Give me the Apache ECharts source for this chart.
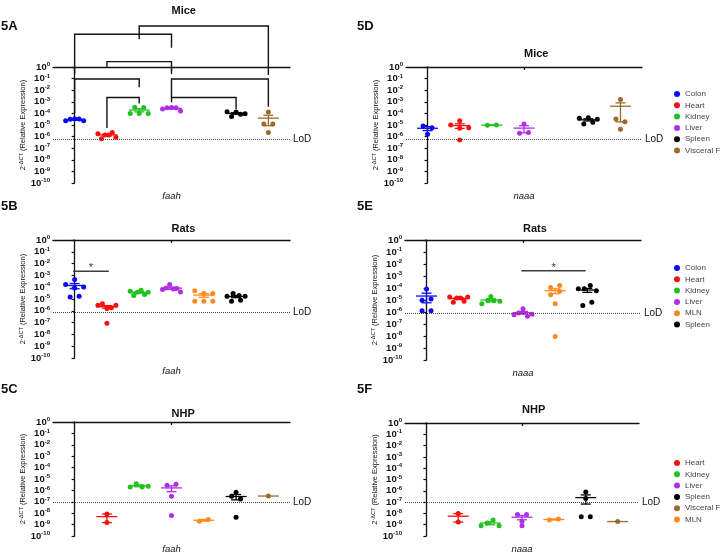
<!DOCTYPE html>
<html>
<head>
<meta charset="utf-8">
<script src="https://cdn.jsdelivr.net/npm/echarts@6/dist/echarts.min.js"></script>
<style>
  html, body { margin: 0; padding: 0; background: #fff; }
  #chart { width: 720px; height: 555px; }
</style>
</head>
<body>
<div id="chart"></div>
<script>
// relative expression (2^-dCT), one small table per panel
const miceFaah = {
  Colon: [2.3e-5, 3.1e-5, 3.5e-5, 3.3e-5, 2.3e-5],
  Heart: [1.8e-6, 6.6e-7, 1.4e-6, 1.4e-6, 2.3e-6, 8.7e-7],
  Kidney: [1.0e-4, 3.4e-4, 1.0e-4, 3.3e-4, 1.0e-4],
  Liver: [2.4e-4, 3.1e-4, 3.3e-4, 3.1e-4, 1.6e-4],
  Spleen: [1.4e-4, 5.3e-5, 1.3e-4, 8.3e-5, 9.5e-5],
  'Visceral Fat': [1.3e-4, 1.2e-5, 1.2e-5, 2.3e-6]
}
const miceNaaa = {
  Colon: [8.2e-6, 1.6e-6, 5.9e-6],
  Heart: [1.0e-5, 2.3e-5, 5.2e-6, 5.1e-7, 5.9e-6],
  Kidney: [9.4e-6, 1.0e-5],
  Liver: [1.9e-6, 1.2e-5, 2.3e-6],
  Spleen: [3.8e-5, 1.2e-5, 4.3e-5, 1.7e-5, 3.1e-5],
  'Visceral Fat': [1.6e-3, 3.3e-5, 1.9e-5, 4.3e-6]
}
const ratsFaah = {
  Colon: [1.7e-4, 4.4e-4, 8.7e-5, 1.05e-4, 1.5e-5, 1.7e-5],
  Heart: [3.0e-6, 3.9e-6, 1.6e-6, 8.7e-8, 1.8e-6, 3.0e-6],
  Kidney: [4.5e-5, 1.95e-5, 3.7e-5, 5.5e-5, 2.4e-5, 3.7e-5],
  Liver: [6.3e-5, 8.7e-5, 1.66e-4, 7.0e-5, 7.6e-5, 4.0e-5],
  MLN: [5.1e-5, 6.6e-6, 2.9e-5, 6.6e-6, 2.9e-5, 6.6e-6],
  Spleen: [1.7e-5, 6.6e-6, 2.9e-5, 1.95e-5, 8.0e-6, 1.7e-5]
}
const ratsNaaa = {
  Colon: [8.3e-5, 9.4e-6, 1.2e-5, 1.3e-6, 1.3e-6],
  Heart: [1.8e-5, 6.4e-6, 1.5e-5, 1.5e-5, 7.7e-6, 1.8e-5],
  Kidney: [4.9e-6, 8.8e-6, 2.0e-5, 8.8e-6, 7.7e-6],
  Liver: [6.0e-7, 8.3e-7, 1.9e-6, 9.4e-7, 4.4e-7, 6.5e-7],
  MLN: [1.1e-4, 2.8e-5, 5.3e-5, 1.6e-4, 4.9e-6, 9.3e-9],
  Spleen: [8.7e-5, 3.4e-6, 8.7e-5, 6.4e-6, 1.6e-4, 6.0e-5]
}
const nhpFaah = {
  Heart: [8.5e-9, 1.5e-9],
  Kidney: [2.0e-6, 3.9e-6, 2.0e-6, 2.3e-6],
  Liver: [2.8e-6, 3.0e-7, 6.2e-9, 3.5e-6],
  MLN: [2.0e-9, 2.8e-9],
  Spleen: [3.0e-7, 6.8e-7, 1.8e-7, 4.5e-9],
  'Visceral Fat': [3.2e-7]
}
const nhpNaaa = {
  Heart: [9.6e-9, 1.7e-9],
  Kidney: [8.1e-10, 1.4e-9, 2.6e-9, 8.1e-10],
  Liver: [7.9e-9, 1.9e-9, 8.1e-10, 7.9e-9],
  MLN: [2.6e-9, 3.2e-9],
  Spleen: [5.0e-9, 7.8e-7, 2.1e-7, 5.0e-9],
  'Visceral Fat': [1.9e-9]
}

// comparison brackets in 5A: [slot from, slot to, top exponent, left leg end, right leg end]
const miceFaahBrackets = [
  [2, 6, 3.53, 2.39, -0.69],
  [0, 3, 2.82, -0.6, 1.67],
  [1, 3, 0.46, 0.03, -0.6],
  [0, 2, -1.03, -3.99, -1.75],
  [1, 2, -2.63, -5.26, -3.14],
  [3, 6, -1.03, -2.63, -3.42],
  [3, 5, -2.63, -3.04, -3.62]
]
// significance bars: [slot from, slot to, exponent]
const ratsFaahSig = [[-0.05, 1.06, -2.65]]
const ratsNaaaSig = [[2.95, 4.95, -2.56]]

const yTicks = [0, -1, -2, -3, -4, -5, -6, -7, -8, -9, -10]

const FONT = '"Liberation Sans", Arial, sans-serif'
const SLOT = { Colon: 0, Heart: 1, Kidney: 2, Liver: 3, MLN: 4, Spleen: 5, 'Visceral Fat': 6 }
const COLOR = {
  Colon: '#0a0af5',
  Heart: '#f51010',
  Kidney: '#1fc21f',
  Liver: '#b02ee6',
  MLN: '#ff8a1c',
  Spleen: '#000000',
  'Visceral Fat': '#9a6a2c'
}
const X_MIN = -0.67
const X_MAX = 6.67

const panels = [
  { tag: '5A', title: 'Mice', data: miceFaah, gene: 'faah', lod: 5.9e-7,
    grid: { left: 53, top: 67, width: 237, height: 116 }, tagY: 27, titleY: 5, brackets: miceFaahBrackets },
  { tag: '5D', title: 'Mice', data: miceNaaa, gene: 'naaa', lod: 5.9e-7,
    grid: { left: 406, top: 67, width: 236, height: 116 }, tagY: 27, titleY: 48,
    legend: { top: 90, names: ['Colon', 'Heart', 'Kidney', 'Liver', 'Spleen', 'Visceral Fat'] } },
  { tag: '5B', title: 'Rats', data: ratsFaah, gene: 'faah', lod: 8e-7,
    grid: { left: 53, top: 240, width: 237, height: 118 }, tagY: 207, titleY: 223, sig: ratsFaahSig },
  { tag: '5E', title: 'Rats', data: ratsNaaa, gene: 'naaa', lod: 8.3e-7,
    grid: { left: 405, top: 240, width: 236, height: 120 }, tagY: 207, titleY: 223, sig: ratsNaaaSig,
    legend: { top: 264, names: ['Colon', 'Heart', 'Kidney', 'Liver', 'MLN', 'Spleen'] } },
  { tag: '5C', title: 'NHP', data: nhpFaah, gene: 'faah', lod: 9e-8,
    grid: { left: 53, top: 422, width: 237, height: 120 }, tagY: 390, titleY: 408 },
  { tag: '5F', title: 'NHP', data: nhpNaaa, gene: 'naaa', lod: 1e-7,
    grid: { left: 405, top: 423, width: 234, height: 119 }, tagY: 390, titleY: 404,
    legend: { top: 459, names: ['Heart', 'Kidney', 'Liver', 'Spleen', 'Visceral Fat', 'MLN'] } }
]

function stats (vals) {
  const n = vals.length
  const mean = vals.reduce((a, b) => a + b, 0) / n
  if (n < 2) return { mean, sem: 0 }
  const sd = Math.sqrt(vals.reduce((a, b) => a + (b - mean) * (b - mean), 0) / (n - 1))
  return { mean, sem: sd / Math.sqrt(n) }
}

// prism-like scatter: points close in height are spread side by side
function swarm (vals, slot, pxSlot, pxDec) {
  const pts = vals.map((v, i) => ({ i, e: Math.log10(v) }))
  const sorted = pts.slice().sort((a, b) => b.e - a.e)
  const rows = []
  let cur = null
  let last = null
  sorted.forEach(p => {
    if (cur && (last.e - p.e) * pxDec < 3.5) cur.push(p)
    else { cur = [p]; rows.push(cur) }
    last = p
  })
  const out = []
  rows.forEach(row => {
    row.sort((a, b) => a.i - b.i)
    const n = row.length
    const step = n > 1 ? Math.min(9, 18 / (n - 1)) : 0
    row.forEach((p, k) => out.push([slot + (k - (n - 1) / 2) * step / pxSlot, p.e]))
  })
  return out
}

function meanItem (params, api) {
  const x = api.value(0)
  const c = api.coord([x, api.value(1)])
  const color = api.visual('color')
  const st = { stroke: color, lineWidth: 1.3 }
  const kids = [{ type: 'line', shape: { x1: c[0] - 10.5, y1: c[1], x2: c[0] + 10.5, y2: c[1] }, style: st }]
  if (api.value(4) > 0) {
    const hi = api.coord([x, api.value(3)])
    const lo = api.value(2) > -50 ? api.coord([x, api.value(2)]) : c
    kids.push({ type: 'line', shape: { x1: c[0], y1: lo[1], x2: c[0], y2: hi[1] }, style: st })
    kids.push({ type: 'line', shape: { x1: c[0] - 5, y1: hi[1], x2: c[0] + 5, y2: hi[1] }, style: st })
    if (lo !== c) kids.push({ type: 'line', shape: { x1: c[0] - 5, y1: lo[1], x2: c[0] + 5, y2: lo[1] }, style: st })
  }
  return { type: 'group', children: kids }
}

function bracketItem (params, api) {
  const x1 = api.value(0)
  const x2 = api.value(1)
  const top = api.value(2)
  const pts = [api.coord([x1, api.value(3)]), api.coord([x1, top]), api.coord([x2, top]), api.coord([x2, api.value(4)])]
  return { type: 'polyline', shape: { points: pts }, style: { stroke: '#111', fill: null, lineWidth: 1.4 } }
}

function sigItem (params, api) {
  const a = api.coord([api.value(0), api.value(2)])
  const b = api.coord([api.value(1), api.value(2)])
  return {
    type: 'group',
    children: [
      { type: 'line', shape: { x1: a[0], y1: a[1], x2: b[0], y2: b[1] }, style: { stroke: '#3c3c3c', lineWidth: 1.6 } },
      { type: 'text', style: { text: '*', x: (a[0] + b[0]) / 2, y: a[1] - 3, textAlign: 'center', textVerticalAlign: 'middle', fontSize: 11, fill: '#333', fontFamily: FONT } }
    ]
  }
}

const option = {
  animation: false,
  grid: [],
  xAxis: [],
  yAxis: [],
  legend: [],
  series: [],
  graphic: []
}

panels.forEach((p, gi) => {
  option.grid.push(p.grid)
  option.xAxis.push({
    type: 'value',
    gridIndex: gi,
    min: X_MIN,
    max: X_MAX,
    name: p.gene,
    nameLocation: 'middle',
    nameGap: 8,
    nameTextStyle: { fontStyle: 'italic', fontSize: 9.5, color: '#111', fontFamily: FONT },
    axisLine: { lineStyle: { color: '#111', width: 1.3 } },
    axisTick: { customValues: [3], length: 3, lineStyle: { color: '#111', width: 1.2 } },
    axisLabel: { show: false },
    splitLine: { show: false }
  })
  option.yAxis.push({
    type: 'value',
    gridIndex: gi,
    min: -10,
    max: 0,
    interval: 1,
    name: '{n|2}{s|-ΔCT}{n| (Relative Expression)}',
    nameLocation: 'middle',
    nameRotate: 90,
    nameGap: 26,
    nameTextStyle: {
      rich: {
        n: { fontSize: 7.5, color: '#111', fontFamily: FONT, lineHeight: 9 },
        s: { fontSize: 5.5, color: '#111', fontFamily: FONT, verticalAlign: 'top', lineHeight: 6 }
      }
    },
    axisLine: { show: true, lineStyle: { color: '#111', width: 1.3 } },
    axisTick: { show: true, length: 3, lineStyle: { color: '#111', width: 1.2 } },
    splitLine: { show: false },
    axisLabel: {
      margin: 3,
      customValues: yTicks,
      formatter: v => '{b|10}{s|' + (v === 0 ? '0' : '-' + (-v)) + '}',
      rich: {
        b: { fontSize: 9.5, fontWeight: 'bold', color: '#111', fontFamily: FONT, lineHeight: 11 },
        s: { fontSize: 6, fontWeight: 'bold', color: '#111', fontFamily: FONT, verticalAlign: 'top', lineHeight: 7 }
      }
    }
  })

  const pxSlot = p.grid.width / (X_MAX - X_MIN)
  const pxDec = p.grid.height / 10

  Object.keys(p.data).forEach((name, k) => {
    const vals = p.data[name]
    const s = {
      type: 'scatter',
      name,
      xAxisIndex: gi,
      yAxisIndex: gi,
      symbolSize: 5,
      itemStyle: { color: COLOR[name], opacity: 1 },
      data: swarm(vals, SLOT[name], pxSlot, pxDec),
      z: 2,
      silent: true
    }
    if (k === 0) {
      s.markLine = {
        silent: true,
        symbol: ['none', 'none'],
        lineStyle: { type: 'dotted', color: '#444', width: 1 },
        label: { show: true, position: 'end', formatter: 'LoD', fontSize: 10, color: '#111', distance: 3, fontFamily: FONT },
        data: [{ yAxis: Math.log10(p.lod) }]
      }
    }
    option.series.push(s)

    const st = stats(vals)
    const lo = st.mean - st.sem
    option.series.push({
      type: 'custom',
      xAxisIndex: gi,
      yAxisIndex: gi,
      itemStyle: { color: COLOR[name] },
      renderItem: meanItem,
      encode: { x: 0, y: 1 },
      data: [[SLOT[name], Math.log10(st.mean), lo > 0 ? Math.log10(lo) : -99, Math.log10(st.mean + st.sem), st.sem]],
      z: 3,
      silent: true
    })
  })

  if (p.brackets) {
    option.series.push({
      type: 'custom', xAxisIndex: gi, yAxisIndex: gi, clip: false, silent: true,
      renderItem: bracketItem, encode: { x: 0, y: 2 }, data: p.brackets, z: 4
    })
  }
  if (p.sig) {
    option.series.push({
      type: 'custom', xAxisIndex: gi, yAxisIndex: gi, clip: false, silent: true,
      renderItem: sigItem, encode: { x: 0, y: 2 }, data: p.sig, z: 4
    })
  }

  if (p.legend) {
    option.legend.push({
      orient: 'vertical',
      left: 674,
      top: p.legend.top,
      padding: 0,
      data: p.legend.names,
      icon: 'circle',
      itemWidth: 6,
      itemHeight: 6,
      itemGap: 3.3,
      selectedMode: false,
      textStyle: { fontSize: 8, lineHeight: 8, color: '#444', fontFamily: FONT }
    })
  }

  const cx = p.grid.left + p.grid.width * (3 - X_MIN) / (X_MAX - X_MIN)
  option.graphic.push({
    type: 'text', left: cx, top: p.titleY, silent: true,
    style: { text: p.title, x: 0, y: 0, textAlign: 'center', textVerticalAlign: 'middle', fontSize: 11, fontWeight: 'bold', fill: '#111', fontFamily: FONT }
  })
  option.graphic.push({
    type: 'text', left: p.grid.left < 200 ? 1 : 357, top: p.tagY - 7, silent: true,
    style: { text: p.tag, fontSize: 13, fontWeight: 'bold', fill: '#111', fontFamily: FONT }
  })
})

const chart = echarts.init(document.getElementById('chart'), null, { renderer: 'canvas' })
chart.setOption(option)
</script>
</body>
</html>
